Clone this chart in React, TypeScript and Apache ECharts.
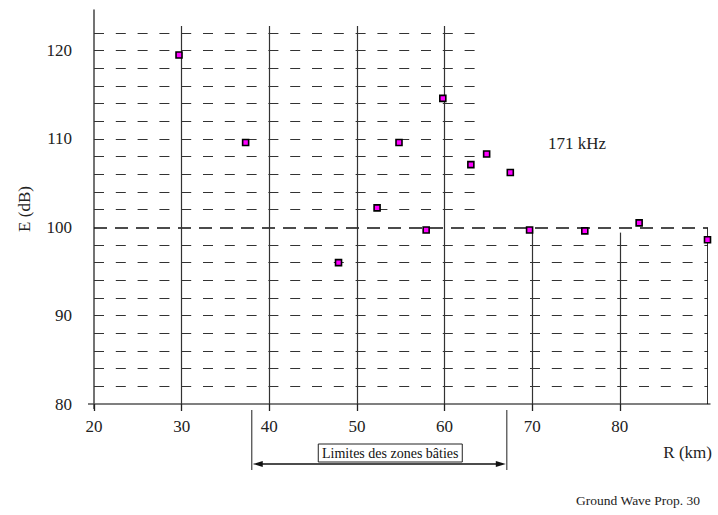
import React, { useEffect, useRef } from "react";
import * as echarts from "echarts";

// Measured points: distance (km) and field strength (dB)
const distanceKm = [29.7, 37.3, 47.9, 52.3, 54.8, 57.9, 59.8, 63.0, 64.8, 67.5, 69.7, 76.0, 82.2, 90.0];
const fieldDb = [119.5, 109.6, 96.0, 102.2, 109.6, 99.7, 114.6, 107.1, 108.3, 106.2, 99.7, 99.6, 100.5, 98.6];

// Grid structure (axis units)
const gridDb = [82, 84, 86, 88, 90, 92, 94, 96, 98, 100, 102, 104, 106, 108, 110, 112, 114, 116, 118, 120, 122];
const upperGridEndKm = 64;
const lowerGridEndKm = 90;
const verticalKm = [30, 40, 50, 60, 70, 80, 90];
const verticalTopDb = [122.8, 122.8, 122.8, 122.8, 99.7, 99.4, 100];

// Annotations
const zoneStartKm = 38.0;
const zoneEndKm = 67.1;
const zoneLabel = "Limites des zones bâties";
const freqLabel = "171 kHz";
const freqPos = [71.8, 109.5];
const xName = "R (km)";
const yName = "E (dB)";
const footer = "Ground Wave Prop. 30";

const FONT = "Liberation Serif";

export default function App() {
  const ref = useRef<HTMLDivElement>(null);
  useEffect(() => {
    if (!ref.current) return;
    const chart = echarts.init(ref.current, undefined, { renderer: "svg" });

    const hSegs = gridDb.map((y) => ({
      coords: [
        [20, y],
        [y > 100 ? upperGridEndKm : lowerGridEndKm, y],
      ],
      lineStyle: y === 100
        ? { color: "#111", width: 1.5, type: [13, 8], opacity: 1 }
        : { color: "#333", width: 1.2, type: [10, 11.8], opacity: 1 },
    }));
    const vSegs = verticalKm.map((x, i) => ({
      coords: [
        [x, 80],
        [x, verticalTopDb[i]],
      ],
      lineStyle: { color: x === 90 ? "#000" : "#333", width: x === 90 ? 1.6 : 1.2, type: "solid", opacity: 1 },
    }));

    chart.setOption({
      animation: false,
      backgroundColor: "#fff",
      textStyle: { fontFamily: FONT },
      grid: { left: 94, right: 10.5, top: 10, bottom: 111, containLabel: false },
      xAxis: {
        type: "value",
        min: 20,
        max: 90,
        interval: 10,
        splitLine: { show: false },
        axisLine: { show: true, lineStyle: { color: "#555", width: 1.5 } },
        axisTick: { show: true, length: 7, lineStyle: { color: "#222", width: 1.3 } },
        axisLabel: {
          margin: 14,
          color: "#222",
          fontFamily: FONT,
          fontSize: 17,
          showMaxLabel: false,
          formatter: (v: number) => (v === 90 ? "" : String(v)),
        },
      },
      yAxis: {
        type: "value",
        min: 80,
        max: 124.6,
        interval: 10,
        splitLine: { show: false },
        axisLine: { show: true, onZero: false, lineStyle: { color: "#444", width: 1.5 } },
        axisTick: { show: false },
        axisLabel: {
          margin: 22,
          color: "#222",
          fontFamily: FONT,
          fontSize: 17,
          showMaxLabel: false,
          formatter: (v: number) => (v % 10 === 0 && v <= 120 ? String(v) : ""),
        },
      },
      series: [
        {
          type: "lines",
          coordinateSystem: "cartesian2d",
          silent: true,
          z: 1,
          lineStyle: { opacity: 1 },
          data: hSegs,
        },
        {
          type: "lines",
          coordinateSystem: "cartesian2d",
          silent: true,
          z: 1,
          lineStyle: { opacity: 1 },
          data: vSegs,
        },
        {
          type: "scatter",
          z: 5,
          clip: false,
          symbol: "rect",
          symbolSize: 6,
          itemStyle: { color: "#ff00ff", borderColor: "#000", borderWidth: 1.6, opacity: 1 },
          data: distanceKm.map((x, i) => [x, fieldDb[i]]),
        },
      ],
    });

    const toPx = (p: number[]) => chart.convertToPixel({ gridIndex: 0 }, p) as number[];
    const [x0, axisY] = toPx([20, 80]);
    const xs = toPx([zoneStartKm, 80])[0];
    const xe = toPx([zoneEndKm, 80])[0];
    const ay = axisY + 60;
    const boxCx = (xs + xe) / 2 + 11;
    const fp = toPx(freqPos);
    const xr = toPx([90, 80])[0];
    const yTop = toPx([20, 124.6])[1];

    const txt = (size: number) => ({ fontFamily: FONT, fontSize: size, fill: "#222" });

    chart.setOption({
      graphic: [
        { type: "line", shape: { x1: x0 - 6, y1: axisY, x2: x0, y2: axisY }, style: { stroke: "#555", lineWidth: 1.5 } },
        { type: "line", shape: { x1: xr, y1: axisY, x2: xr + 3, y2: axisY }, style: { stroke: "#555", lineWidth: 1.5 } },
        { type: "line", shape: { x1: x0, y1: axisY, x2: x0, y2: axisY + 5 }, style: { stroke: "#444", lineWidth: 1.5 } },
        { type: "line", shape: { x1: xs, y1: axisY + 6, x2: xs, y2: ay + 6 }, style: { stroke: "#444", lineWidth: 1.2 } },
        { type: "line", shape: { x1: xe, y1: axisY + 6, x2: xe, y2: ay + 6 }, style: { stroke: "#444", lineWidth: 1.2 } },
        { type: "line", shape: { x1: xs + 6, y1: ay, x2: xe - 6, y2: ay }, style: { stroke: "#111", lineWidth: 1.5 } },
        { type: "polygon", shape: { points: [[xs + 1, ay], [xs + 11, ay - 3], [xs + 11, ay + 3]] }, style: { fill: "#111" } },
        { type: "polygon", shape: { points: [[xe - 1, ay], [xe - 11, ay - 3], [xe - 11, ay + 3]] }, style: { fill: "#111" } },
        { type: "rect", shape: { x: boxCx - 72, y: axisY + 40, width: 144, height: 18 }, style: { fill: "#fff", stroke: "#222", lineWidth: 1 } },
        { type: "text", x: boxCx, y: axisY + 49, style: { ...txt(14), fill: "#111", text: zoneLabel, align: "center", verticalAlign: "middle" } },
        { type: "text", x: fp[0], y: fp[1], style: { ...txt(17), text: freqLabel, align: "left", verticalAlign: "middle" } },
        { type: "text", x: 712, y: axisY + 48, style: { ...txt(17), text: xName, align: "right", verticalAlign: "middle" } },
        { type: "text", x: 24, y: (yTop + axisY) / 2 + 2, rotation: Math.PI / 2, style: { ...txt(17), text: yName, align: "center", verticalAlign: "middle" } },
        { type: "text", x: 700, y: 500, style: { ...txt(13.5), text: footer, align: "right", verticalAlign: "middle" } },
      ],
    });

    return () => chart.dispose();
  }, []);
  return <div ref={ref} style={{ position: "fixed", left: 0, top: 0, width: 718, height: 515, background: "#fff" }} />;
}
